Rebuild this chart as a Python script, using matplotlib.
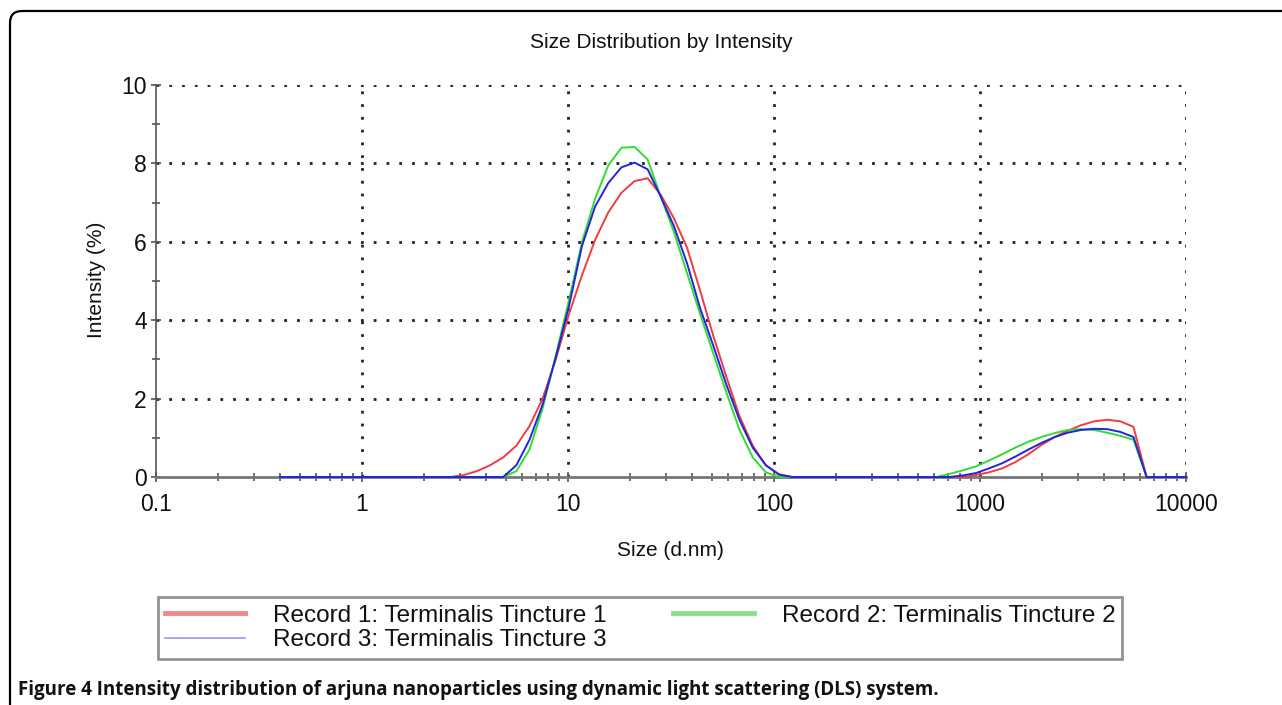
import numpy as np
import matplotlib.pyplot as plt
from matplotlib.lines import Line2D
from matplotlib.patches import FancyBboxPatch
from matplotlib.transforms import IdentityTransform
from matplotlib.ticker import LogLocator, MultipleLocator, FixedLocator, FixedFormatter, NullFormatter

plt.rcParams['font.family'] = ['Liberation Sans', 'DejaVu Sans']

# DLS size bins (d.nm)
tamanhos = [0.4, 0.4632, 0.5365, 0.6213, 0.7195, 0.8332, 0.9649, 1.117, 1.294, 1.499,
            1.736, 2.01, 2.328, 2.696, 3.122, 3.615, 4.187, 4.849, 5.615, 6.503,
            7.531, 8.721, 10.1, 11.7, 13.54, 15.69, 18.17, 21.04, 24.36, 28.21,
            32.67, 37.84, 43.82, 50.75, 58.77, 68.06, 78.82, 91.28, 105.7, 122.4,
            141.8, 164.2, 190.1, 220.2, 255.0, 295.3, 342.0, 396.1, 458.7, 531.2,
            615.1, 712.4, 825.0, 955.4, 1106, 1281, 1484, 1718, 1990, 2305,
            2669, 3091, 3580, 4145, 4801, 5560, 6439, 7456, 8635, 10000]

# intensidade (%) por registro
record1 = [0, 0, 0, 0, 0, 0, 0, 0, 0, 0,
           0, 0, 0, 0, 0.05, 0.15, 0.3, 0.5, 0.8, 1.3,
           2.0, 3.0, 4.15, 5.15, 6.05, 6.75, 7.25, 7.55, 7.62, 7.2,
           6.6, 5.85, 4.75, 3.6, 2.55, 1.55, 0.8, 0.3, 0.07, 0,
           0, 0, 0, 0, 0, 0, 0, 0, 0, 0,
           0, 0, 0, 0.05, 0.12, 0.22, 0.38, 0.58, 0.82, 1.02,
           1.18, 1.32, 1.42, 1.46, 1.42, 1.28, 0, 0, 0, 0]
record2 = [0, 0, 0, 0, 0, 0, 0, 0, 0, 0,
           0, 0, 0, 0, 0, 0, 0, 0, 0.15, 0.7,
           1.75, 3.1, 4.5, 6.0, 7.1, 7.95, 8.4, 8.42, 8.1, 7.15,
           6.25, 5.2, 4.15, 3.15, 2.15, 1.2, 0.5, 0.12, 0, 0,
           0, 0, 0, 0, 0, 0, 0, 0, 0, 0,
           0, 0.08, 0.17, 0.27, 0.42, 0.58, 0.75, 0.9, 1.02, 1.12,
           1.2, 1.22, 1.2, 1.13, 1.05, 0.95, 0, 0, 0, 0]
record3 = [0, 0, 0, 0, 0, 0, 0, 0, 0, 0,
           0, 0, 0, 0, 0, 0, 0, 0, 0.3, 0.95,
           1.85, 3.05, 4.35, 5.9, 6.9, 7.5, 7.9, 8.02, 7.85, 7.15,
           6.4, 5.45, 4.3, 3.35, 2.35, 1.45, 0.75, 0.3, 0.06, 0,
           0, 0, 0, 0, 0, 0, 0, 0, 0, 0,
           0, 0, 0.04, 0.1, 0.22, 0.35, 0.52, 0.7, 0.87, 1.02,
           1.13, 1.2, 1.23, 1.22, 1.15, 1.02, 0, 0, 0, 0]

nomes = ["Record 1: Terminalis Tincture 1",
         "Record 2: Terminalis Tincture 2",
         "Record 3: Terminalis Tincture 3"]
cores = ['#f03c3c', '#30dc30', '#2424dc']
cores_legenda = ['#f08a8a', '#8ae08a', '#9a9af0']

W, H = 1282, 705
fig = plt.figure(figsize=(W / 100, H / 100), dpi=100)
ax = fig.add_axes([156 / W, 1 - 477 / H, 1030 / W, 392 / H])

for serie, cor in zip([record1, record2, record3], cores):
    ax.plot(tamanhos, serie, color=cor, lw=1.4, clip_on=False, zorder=4)

ax.set_xscale('log')
ax.set_xlim(0.1, 10000)
ax.set_ylim(0, 10)

# grade pontilhada
pontilhado = (0, (1, 3.6))
for xv in [1, 10, 100, 1000, 10000]:
    ax.axvline(xv, color='#222222', lw=2, ls=pontilhado, zorder=1)
for yv in [2, 4, 6, 8, 10]:
    ax.axhline(yv, color='#222222', lw=2, ls=pontilhado, zorder=1)

ax.spines['top'].set_visible(False)
ax.spines['right'].set_visible(False)
ax.spines['left'].set_color('#555555')
ax.spines['left'].set_linewidth(1.2)
ax.spines['bottom'].set_color('#777777')
ax.spines['bottom'].set_linewidth(2)

ax.xaxis.set_major_locator(FixedLocator([0.1, 1, 10, 100, 1000, 10000]))
ax.xaxis.set_major_formatter(FixedFormatter(['0.1', '1', '10', '100', '1000', '10000']))
ax.xaxis.set_minor_locator(LogLocator(base=10, subs=np.arange(2, 10)))
ax.xaxis.set_minor_formatter(NullFormatter())
ax.yaxis.set_major_locator(MultipleLocator(2))
ax.yaxis.set_minor_locator(MultipleLocator(1))

ax.tick_params(axis='both', which='major', direction='inout', length=7, width=1.2,
               color='#555555', labelsize=16.5, labelcolor='#111111')
ax.tick_params(axis='both', which='minor', direction='inout', length=6, width=1.2,
               color='#555555')
ax.tick_params(axis='x', which='major', pad=8)
ax.tick_params(axis='y', which='major', pad=3)

fig.text(661 / W, 1 - 42 / H, "Size Distribution by Intensity", ha='center', va='center',
         fontsize=15, color='#111111')
fig.text(670 / W, 1 - 550 / H, "Size (d.nm)", ha='center', va='center',
         fontsize=15, color='#111111')
fig.text(96 / W, 1 - 280 / H, "Intensity (%)", ha='center', va='center', rotation=90,
         fontsize=15, color='#111111')

# legenda (ordem para ficar R1 R2 / R3)
handles = [Line2D([], [], color=cores_legenda[0], lw=3.5),
           Line2D([], [], color=cores_legenda[2], lw=1.2),
           Line2D([], [], color=cores_legenda[1], lw=3.5)]
labels = [nomes[0], nomes[2], nomes[1]]
leg = fig.legend(handles, labels, ncol=2, loc='center',
                 bbox_to_anchor=(640 / W, 1 - 628 / H), fontsize=17.5,
                 frameon=True, fancybox=False, edgecolor='#777777',
                 handlelength=3.3, handletextpad=1.15, columnspacing=2.75,
                 labelspacing=0.12, borderpad=0.3, borderaxespad=0)
leg.get_frame().set_linewidth(2)
for t in leg.get_texts():
    t.set_color('#111111')

# moldura arredondada
moldura = FancyBboxPatch((10, -60), 1500, H - 11 + 60,
                         boxstyle="round,pad=0,rounding_size=12",
                         transform=IdentityTransform(), fill=False,
                         edgecolor='black', lw=1.6)
fig.add_artist(moldura)

fig.text(18 / W, 1 - 690 / H,
         "Figure 4 Intensity distribution of arjuna nanoparticles using dynamic light scattering (DLS) system.",
         ha='left', va='center', fontsize=13.5, fontweight='bold',
         family=['Open Sans', 'DejaVu Sans'], color='#111111')

fig.savefig('out.png', dpi=100)
